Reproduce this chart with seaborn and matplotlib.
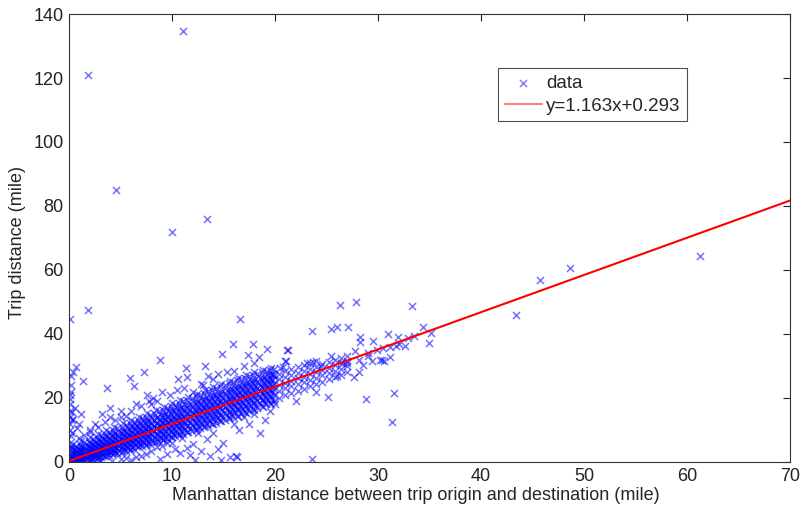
import numpy as np
import pandas as pd
import matplotlib
matplotlib.use("Agg")
import matplotlib.pyplot as plt
import seaborn as sns

# ---------------- data ----------------
# dense band: column x positions and the y values observed in each column
band_x = [0.3, 0.7, 1.1, 1.5, 1.9, 2.3, 2.7, 3.1, 3.5, 3.9, 4.3, 4.7, 5.1, 5.5, 5.9,
          6.3, 6.7, 7.1, 7.5, 7.9, 8.3, 8.7, 9.1, 9.5, 9.9, 10.3, 10.7, 11.1, 11.5, 11.9,
          12.3, 12.7, 13.1, 13.5, 13.9, 14.3, 14.7, 15.1, 15.5, 15.9, 16.3, 16.7, 17.1,
          17.5, 17.9, 18.3, 18.7, 19.1, 19.5, 19.9,
          20.4, 21.0, 21.6, 22.2, 22.8, 23.4, 24.0, 24.6, 25.2, 25.8, 26.4, 27.0]
band_y = [
    [0.1, 0.5, 1.2, 2.0, 3.1, 4.4], [0.2, 0.7, 1.5, 2.4, 3.6, 5.0],
    [0.3, 1.0, 1.9, 2.9, 4.0, 5.6], [0.4, 1.3, 2.3, 3.3, 4.6, 6.1],
    [0.6, 1.6, 2.7, 3.8, 5.1, 6.7], [0.9, 2.0, 3.1, 4.2, 5.5, 7.2],
    [1.2, 2.3, 3.5, 4.7, 6.0, 7.8], [1.5, 2.7, 3.9, 5.1, 6.5, 8.3],
    [1.8, 3.1, 4.3, 5.6, 7.0, 8.9], [2.1, 3.5, 4.7, 6.0, 7.5, 9.4],
    [2.5, 3.9, 5.2, 6.5, 8.0, 9.9], [2.8, 4.3, 5.6, 7.0, 8.5, 10.5],
    [3.2, 4.7, 6.0, 7.4, 9.0, 11.0], [3.5, 5.1, 6.5, 7.9, 9.5, 11.6],
    [3.9, 5.5, 6.9, 8.3, 10.0, 12.1], [4.2, 5.9, 7.4, 8.8, 10.5, 12.6],
    [4.6, 6.3, 7.8, 9.3, 11.0, 13.2], [5.0, 6.7, 8.3, 9.8, 11.5, 13.7],
    [5.3, 7.1, 8.7, 10.2, 12.0, 14.2], [5.7, 7.5, 9.2, 10.7, 12.5, 14.8],
    [6.1, 7.9, 9.6, 11.2, 13.0, 15.3], [6.5, 8.3, 10.1, 11.7, 13.5, 15.8],
    [6.9, 8.8, 10.5, 12.1, 14.0, 16.4], [7.3, 9.2, 11.0, 12.6, 14.5, 16.9],
    [7.7, 9.6, 11.4, 13.1, 15.0, 17.4], [8.1, 10.0, 11.9, 13.6, 15.5, 17.9],
    [8.5, 10.5, 12.3, 14.1, 16.0, 18.5], [8.9, 10.9, 12.8, 14.5, 16.5, 19.0],
    [9.3, 11.3, 13.2, 15.0, 17.0, 19.5], [9.7, 11.7, 13.7, 15.5, 17.5, 20.0],
    [10.1, 12.2, 14.1, 16.0, 18.0, 20.5], [10.5, 12.6, 14.6, 16.5, 18.5, 21.0],
    [11.0, 13.0, 15.0, 16.9, 19.0, 21.6], [11.4, 13.5, 15.5, 17.4, 19.5, 22.1],
    [11.8, 13.9, 15.9, 17.9, 20.0, 22.6], [12.2, 14.3, 16.4, 18.4, 20.5, 23.1],
    [12.7, 14.8, 16.8, 18.8, 21.0, 23.6], [13.1, 15.2, 17.3, 19.3, 21.5, 24.1],
    [13.6, 15.7, 17.7, 19.8, 22.0, 24.6], [14.0, 16.1, 18.2, 20.3, 22.4, 25.1],
    [14.5, 16.6, 18.7, 20.8, 22.9, 25.6], [15.0, 17.1, 19.2, 21.2, 23.4, 26.0],
    [15.5, 17.6, 19.6, 21.7, 23.8, 26.4], [16.0, 18.0, 20.1, 22.2, 24.3, 26.8],
    [16.5, 18.5, 20.6, 22.6, 24.7, 27.2], [17.0, 19.0, 21.0, 23.1, 25.1, 27.6],
    [17.5, 19.5, 21.5, 23.5, 25.5, 28.0], [18.0, 20.0, 22.0, 24.0, 26.0, 28.4],
    [18.5, 20.5, 22.4, 24.4, 26.4, 28.7], [19.0, 21.0, 22.9, 24.8, 26.8, 29.0],
    [20.0, 22.3, 24.0, 25.8, 27.6], [20.8, 23.0, 24.7, 26.5, 28.3],
    [21.5, 23.6, 25.4, 27.1, 29.0], [22.2, 24.3, 26.1, 27.8, 29.6],
    [22.9, 25.0, 26.7, 28.5, 30.3], [23.6, 25.7, 27.4, 29.2, 31.0],
    [24.4, 26.4, 28.1, 29.8, 31.6], [25.1, 27.1, 28.8, 30.5],
    [25.8, 27.8, 29.5, 31.2], [26.5, 28.5, 30.2, 31.9],
    [27.3, 29.2, 30.9, 32.6], [28.0, 29.9, 31.6, 33.2],
]

# dense band, second set of columns between the first ones
band2_x = [0.5, 0.9, 1.3, 1.7, 2.1, 2.5, 2.9, 3.3, 3.7, 4.1, 4.5, 4.9, 5.3, 5.7, 6.1,
           6.5, 6.9, 7.3, 7.7, 8.1, 8.5, 8.9, 9.3, 9.7, 10.1, 10.5, 10.9, 11.3, 11.7,
           12.1, 12.5, 12.9, 13.3, 13.7, 14.1, 14.5, 14.9, 15.3, 15.7, 16.1, 16.5, 16.9,
           17.3, 17.7, 18.1, 18.5, 18.9, 19.3, 19.7]
band2_y = [
    [0.1, 0.6, 1.4, 2.4, 3.7], [0.3, 0.9, 1.8, 2.8, 4.2], [0.5, 1.3, 2.3, 3.4, 4.7],
    [0.8, 1.7, 2.8, 3.9, 5.3], [0.9, 2.1, 3.2, 4.3, 5.7], [1.3, 2.5, 3.7, 4.9, 6.3],
    [1.7, 3.0, 4.2, 5.4, 6.9], [2.0, 3.3, 4.6, 5.9, 7.4], [2.4, 3.8, 5.1, 6.4, 8.0],
    [2.8, 4.2, 5.6, 6.9, 8.5], [3.1, 4.6, 6.0, 7.4, 9.0], [3.5, 5.0, 6.5, 7.9, 9.5],
    [4.0, 5.5, 7.0, 8.4, 10.1], [4.3, 5.9, 7.4, 8.9, 10.5], [4.7, 6.3, 7.9, 9.4, 11.1],
    [5.2, 6.8, 8.4, 9.9, 11.6], [5.5, 7.2, 8.8, 10.3, 12.1], [5.9, 7.6, 9.3, 10.9, 12.7],
    [6.4, 8.1, 9.8, 11.4, 13.2], [6.7, 8.5, 10.2, 11.8, 13.7], [7.2, 8.9, 10.7, 12.3, 14.2],
    [7.5, 9.3, 11.1, 12.8, 14.7], [7.9, 9.8, 11.6, 13.3, 15.3], [8.4, 10.2, 12.1, 13.8, 15.8],
    [8.7, 10.6, 12.5, 14.2, 16.3], [9.2, 11.1, 13.0, 14.7, 16.8], [9.6, 11.5, 13.5, 15.2, 17.3],
    [10.1, 12.0, 13.9, 15.7, 17.7], [10.5, 12.5, 14.4, 16.1, 18.2], [11.0, 12.9, 14.9, 16.6, 18.7],
    [11.4, 13.4, 15.3, 17.1, 19.2], [11.9, 13.9, 15.8, 17.6, 19.7], [12.3, 14.3, 16.3, 18.1, 20.2],
    [12.8, 14.8, 16.7, 18.6, 20.7], [13.3, 15.3, 17.2, 19.1, 21.2], [13.7, 15.7, 17.7, 19.6, 21.6],
    [14.2, 16.2, 18.1, 20.0, 22.1], [14.7, 16.7, 18.6, 20.5, 22.6], [15.1, 17.1, 19.1, 21.0, 23.0],
    [15.6, 17.6, 19.5, 21.4, 23.5], [16.1, 18.1, 20.0, 21.9, 24.0], [16.5, 18.5, 20.5, 22.4, 24.4],
    [17.0, 19.0, 20.9, 22.8, 24.9], [17.5, 19.5, 21.4, 23.3, 25.4], [17.9, 19.9, 21.8, 23.7, 25.8],
    [18.4, 20.4, 22.3, 24.2, 26.3], [18.9, 20.9, 22.8, 24.7, 26.7], [19.3, 21.3, 23.2, 25.1, 27.2],
    [19.8, 21.8, 23.7, 25.6, 27.6],
]

# dense band, third set of columns
band3_x = [0.4, 1.2, 2.0, 2.8, 3.6, 4.4, 5.2, 6.0, 6.8, 7.6, 8.4, 9.2, 10.0, 10.8, 11.6,
           12.4, 13.2, 14.0, 14.8, 15.6, 16.4, 17.2, 18.0, 18.8, 19.6]
band3_y = [
    [0.2, 0.8, 1.7, 2.6, 3.9, 5.5], [0.3, 1.2, 2.2, 3.4, 4.8, 6.6],
    [0.7, 1.9, 3.0, 4.3, 5.8, 7.8], [1.3, 2.6, 3.9, 5.2, 6.8, 8.9],
    [2.0, 3.4, 4.8, 6.2, 7.8, 10.0], [2.7, 4.2, 5.7, 7.1, 8.8, 11.0],
    [3.4, 5.0, 6.6, 8.1, 9.8, 12.1], [4.1, 5.8, 7.5, 9.0, 10.8, 13.1],
    [4.9, 6.7, 8.4, 10.0, 11.8, 14.2], [5.6, 7.5, 9.3, 10.9, 12.8, 15.2],
    [6.4, 8.3, 10.2, 11.9, 13.8, 16.3], [7.1, 9.1, 11.1, 12.8, 14.8, 17.3],
    [7.9, 10.0, 12.0, 13.8, 15.8, 18.4], [8.7, 10.8, 12.9, 14.7, 16.8, 19.4],
    [9.5, 11.7, 13.8, 15.7, 17.8, 20.4], [10.3, 12.5, 14.7, 16.6, 18.7, 21.4],
    [11.1, 13.4, 15.6, 17.5, 19.7, 22.4], [11.9, 14.3, 16.5, 18.5, 20.6, 23.4],
    [12.8, 15.1, 17.4, 19.4, 21.6, 24.4], [13.6, 16.0, 18.3, 20.4, 22.6, 25.3],
    [14.5, 16.9, 19.2, 21.3, 23.5, 26.2], [15.3, 17.8, 20.1, 22.2, 24.4, 27.1],
    [16.2, 18.7, 21.0, 23.1, 25.3, 28.0], [17.1, 19.6, 21.9, 24.0, 26.2, 28.8],
    [18.0, 20.5, 22.8, 24.9, 27.1, 29.4],
]

# scattered individual points
pts_x = [11.1, 1.85, 4.6, 10.0, 13.4, 1.8, 0.1, 61.3, 48.6, 45.7, 43.4, 16.6, 27.9, 26.3,
         33.3, 23.6, 25.4, 26.0, 27.1, 34.4, 35.1, 35.0, 31.0, 31.9, 32.9, 32.6, 28.3, 28.3,
         29.5, 31.2, 31.7, 27.8, 29.0, 29.9, 30.2, 31.2, 30.4, 30.6, 29.4, 28.2, 28.5, 28.2,
         27.7, 27.0, 26.6, 25.4, 23.7, 23.1, 21.2, 21.0, 20.8, 25.1, 28.8, 31.6, 31.4, 23.6,
         8.8, 15.9, 17.9, 19.2, 21.3, 14.9, 17.4, 18.4, 13.2, 11.4, 10.6, 5.9, 7.3, 3.7, 6.3,
         1.4, 0.7, 0.4, 0.1, 7.6, 8.2, 11.5, 15.3, 19.8, 21.1, 20.5, 10.3, 11.7, 13.7, 16.2,
         15.6, 12.2, 13.4, 8.5, 10.8, 14.8, 16.3,
         0.05, 0.1, 0.05, 0.15, 0.05, 0.1, 0.05, 0.1, 0.05, 0.1, 0.2, 0.15, 0.3, 0.25, 0.2,
         2.5, 3.2, 4.0, 5.0, 6.5, 7.8, 9.0, 9.5, 3.0, 5.5, 6.0, 7.0, 8.0, 9.5, 2.0, 1.0, 1.2,
         0.6, 12.0, 13.0, 14.0, 12.5, 16.0, 17.0, 18.0, 19.0, 20.0, 22.0, 24.0, 5.0, 4.0,
         33.5, 32.0, 30.5, 29.0, 26.0, 24.5,
         9.0, 10.0, 11.0, 12.0, 12.8, 14.0, 15.0, 16.5, 17.5, 18.5, 19.5, 14.5, 11.5, 7.5,
         6.5, 5.0, 4.2, 8.8,
         2.0, 2.8, 3.5, 4.5, 5.5, 6.0, 7.0, 8.0, 8.5, 9.8, 10.5, 11.2, 12.8, 13.5, 14.5,
         16.0, 17.0, 18.0, 1.5, 1.0, 0.8, 0.4, 0.3, 0.2]
pts_y = [134.7, 121.0, 85.0, 72.0, 76.0, 47.5, 44.6, 64.4, 60.6, 57.0, 46.0, 44.8, 50.0, 49.0,
         48.8, 41.0, 41.6, 42.3, 42.2, 42.2, 40.3, 37.2, 40.0, 39.0, 38.7, 36.3, 39.0, 37.5,
         37.8, 36.0, 36.3, 34.7, 34.0, 35.0, 31.9, 32.8, 31.9, 31.6, 31.6, 32.0, 30.3, 28.0,
         26.6, 31.0, 31.0, 33.1, 31.3, 31.0, 35.0, 31.6, 29.7, 20.3, 19.7, 21.6, 12.5, 1.0,
         32.0, 37.0, 36.8, 35.2, 35.0, 33.9, 33.4, 32.9, 30.0, 29.4, 26.0, 26.2, 28.0, 23.0, 23.8,
         25.3, 29.7, 28.0, 19.7, 20.9, 20.0, 26.5, 28.0, 27.2, 31.6, 29.4, 4.0, 2.2, 1.9, 1.9,
         1.5, 0.6, 7.2, 4.7, 2.8, 0.6, 1.6,
         2.0, 4.0, 6.0, 8.0, 10.0, 12.0, 14.0, 16.0, 18.0, 21.0, 24.0, 27.0, 9.0, 13.0, 5.0,
         12.0, 15.0, 17.0, 14.0, 18.0, 19.0, 22.0, 6.0, 0.3, 1.2, 0.5, 2.0, 3.5, 2.5, 10.0, 12.0,
         15.0, 17.0, 22.0, 24.0, 26.0, 9.0, 12.0, 14.0, 15.0, 13.0, 18.0, 19.0, 22.0, 16.0, 14.0,
         39.5, 37.0, 35.5, 33.0, 27.0, 30.0,
         5.0, 6.0, 7.5, 5.5, 3.5, 9.0, 6.0, 10.0, 12.0, 9.0, 16.0, 4.0, 4.5, 2.5,
         1.5, 0.8, 0.4, 1.0,
         9.5, 11.0, 12.5, 13.0, 14.5, 16.0, 17.5, 18.0, 19.0, 21.0, 22.5, 23.0, 24.5, 27.0, 27.5,
         28.5, 30.0, 31.0, 8.5, 7.5, 10.5, 13.5, 15.5, 22.0]

# fitted line endpoints
fit_x = [0.0, 70.0]
fit_y = [0.293, 81.703]
fit_label = "y=1.163x+0.293"

# ---------------- build table ----------------
xs, ys = [], []
columns = list(zip(band_x, band_y)) + list(zip(band2_x, band2_y)) + list(zip(band3_x, band3_y))
for bx, col in columns:
    xs.extend([bx] * len(col))
    ys.extend(col)
xs.extend(pts_x)
ys.extend(pts_y)
df = pd.DataFrame({"x": xs, "y": ys})
fit_df = pd.DataFrame({"x": fit_x, "y": fit_y})

# ---------------- plot ----------------
sns.set_style("white")
plt.rcParams["font.family"] = ["Liberation Sans", "DejaVu Sans"]

fig = plt.figure(figsize=(8, 5.12), dpi=100)
ax = fig.add_axes([69 / 800, 50 / 512, 721 / 800, 448 / 512])

sns.scatterplot(data=df, x="x", y="y", ax=ax, marker="x", color="#0000ff",
                s=26, linewidth=1.1, alpha=0.55, label="data")
sns.lineplot(data=fit_df, x="x", y="y", ax=ax, color="#ff0000", linewidth=1.5,
             label=fit_label)

ax.set_xlim(0, 70)
ax.set_ylim(0, 140)
ax.set_xticks(range(0, 71, 10))
ax.set_yticks(range(0, 141, 20))
ax.tick_params(direction="in", top=True, right=True, length=5, width=0.8,
               labelsize=13, colors="#222222", pad=4)
for sp in ax.spines.values():
    sp.set_visible(True)
    sp.set_color("#333333")
    sp.set_linewidth(0.8)
ax.set_xlabel("Manhattan distance between trip origin and destination (mile)",
              fontsize=13, labelpad=2)
ax.set_ylabel("Trip distance (mile)", fontsize=13, labelpad=2)
ax.xaxis.set_label_coords(0.481, -0.055)
ax.yaxis.set_label_coords(-0.06, 0.489)

leg = ax.legend(loc="upper left", bbox_to_anchor=(0.595, 0.879), borderaxespad=0,
                fontsize=13.5, frameon=True, fancybox=False, handlelength=2.0,
                borderpad=0.35, labelspacing=0.3, handletextpad=0.2)
leg.get_frame().set_edgecolor("#222222")
leg.get_frame().set_linewidth(0.8)
for lh in leg.legend_handles:
    try:
        lh.set_alpha(0.5)
    except Exception:
        pass

fig.savefig("out.png", dpi=100)
